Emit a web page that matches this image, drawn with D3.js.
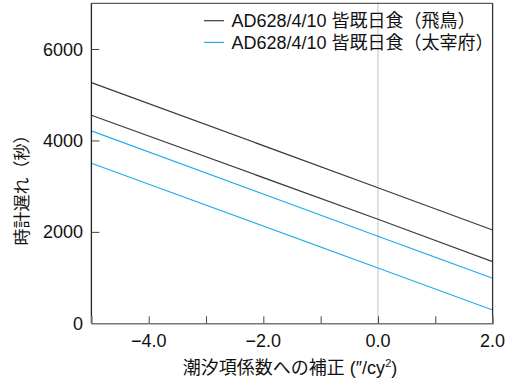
<!DOCTYPE html>
<html><head><meta charset="utf-8">
<script src="https://cdn.jsdelivr.net/npm/d3@7"></script>
<style>
body{margin:0;background:#fff;}
text{font-family:"Liberation Sans","Noto Sans CJK JP",sans-serif;fill:#111;}
</style></head><body>
<svg id="c" width="514" height="385"></svg>
<script>
const xPoints = [-5, 0, 2];
const asukaUpper = [5265, 2966, 2042];
const asukaLower = [4552, 2276, 1348];
const dazaifuUpper = [4208, 1904, 985];
const dazaifuLower = [3501, 1210, 291];
const seriesNames = ["AD628/4/10 皆既日食（飛鳥）", "AD628/4/10 皆既日食（太宰府）"];
const seriesColors = ["#3a3a3a", "#22b0ea"];
const xTicks = [-5, -4, -3, -2, -1, 0, 1, 2];
const xLabels = [-4, -2, 0, 2];
const yTicks = [0, 2000, 4000, 6000];

const svg = d3.select("#c");
const L = 91.4, R = 492.6, T = 3.3, B = 323.3;
const x = d3.scaleLinear().domain([-5, 2]).range([L, R]);
const y = d3.scaleLinear().domain([0, 7000]).range([B, T]);

// dotted zero line
svg.append("line").attr("x1", x(0)).attr("x2", x(0)).attr("y1", T).attr("y2", B)
  .attr("stroke", "#888").attr("stroke-width", 1).attr("stroke-dasharray", "1,1");

const lines = [
  {vals: asukaUpper, c: 0}, {vals: asukaLower, c: 0},
  {vals: dazaifuUpper, c: 1}, {vals: dazaifuLower, c: 1}
];
const lineGen = d3.line().x((d) => x(d[0])).y((d) => y(d[1]));
lines.forEach(s => {
  svg.append("path").datum(xPoints.map((xv, i) => [xv, s.vals[i]]))
    .attr("d", lineGen).attr("fill", "none")
    .attr("stroke", seriesColors[s.c]).attr("stroke-width", 1.2);
});

// frame
svg.append("line").attr("x1", L).attr("x2", R).attr("y1", T).attr("y2", T).attr("stroke", "#333");
svg.append("line").attr("x1", R).attr("x2", R).attr("y1", T).attr("y2", B).attr("stroke", "#333").attr("stroke-width", 1.3);
svg.append("line").attr("x1", L).attr("x2", L).attr("y1", T).attr("y2", B).attr("stroke", "#222").attr("stroke-width", 1.3);

// x axis
const xAxis = svg.append("g").attr("transform", `translate(0,${B})`)
  .call(d3.axisBottom(x).tickValues(xTicks).tickSize(-7).tickFormat(""));
xAxis.select(".domain").attr("stroke", "#777").attr("stroke-width", 1.5);
xAxis.selectAll(".tick line").attr("stroke", "#444");
xAxis.selectAll(".tick").filter(d => d === -5 || d === 2).remove();
svg.selectAll(".xl").data(xLabels).enter().append("text")
  .attr("x", d => x(d)).attr("y", 347).attr("text-anchor", "middle")
  .attr("font-size", 18)
  .text(d => (d < 0 ? "\u2212" : "") + Math.abs(d).toFixed(1));

// y axis
const yAxis = svg.append("g").attr("transform", `translate(${L},0)`)
  .call(d3.axisLeft(y).tickValues(yTicks).tickSize(-8).tickFormat(""));
yAxis.select(".domain").remove();
yAxis.selectAll(".tick line").attr("stroke", "#444");
yAxis.selectAll(".tick").filter(d => d === 0).remove();
svg.selectAll(".yl").data(yTicks).enter().append("text")
  .attr("x", 83).attr("y", d => y(d) + 6.5).attr("text-anchor", "end")
  .attr("font-size", 18).text(d => d);

// axis titles
svg.append("text").attr("x", 290).attr("y", 374).attr("text-anchor", "middle")
  .attr("font-size", 18).html('潮汐項係数への補正 (″/cy<tspan dy="-7" font-size="11">2</tspan><tspan dy="7">)</tspan>');
svg.append("text").attr("transform", "translate(28,186) rotate(-90)")
  .attr("text-anchor", "middle").attr("font-size", 17).text("時計遅れ（秒）");

// legend
seriesNames.forEach((n, i) => {
  const yy = 20.7 + i * 21.7;
  svg.append("line").attr("x1", 204).attr("x2", 224).attr("y1", yy).attr("y2", yy)
    .attr("stroke", seriesColors[i]).attr("stroke-width", 1.2);
  svg.append("text").attr("x", 231.5).attr("y", yy + 6.5).attr("font-size", 18).text(n);
});
</script>
</body></html>
